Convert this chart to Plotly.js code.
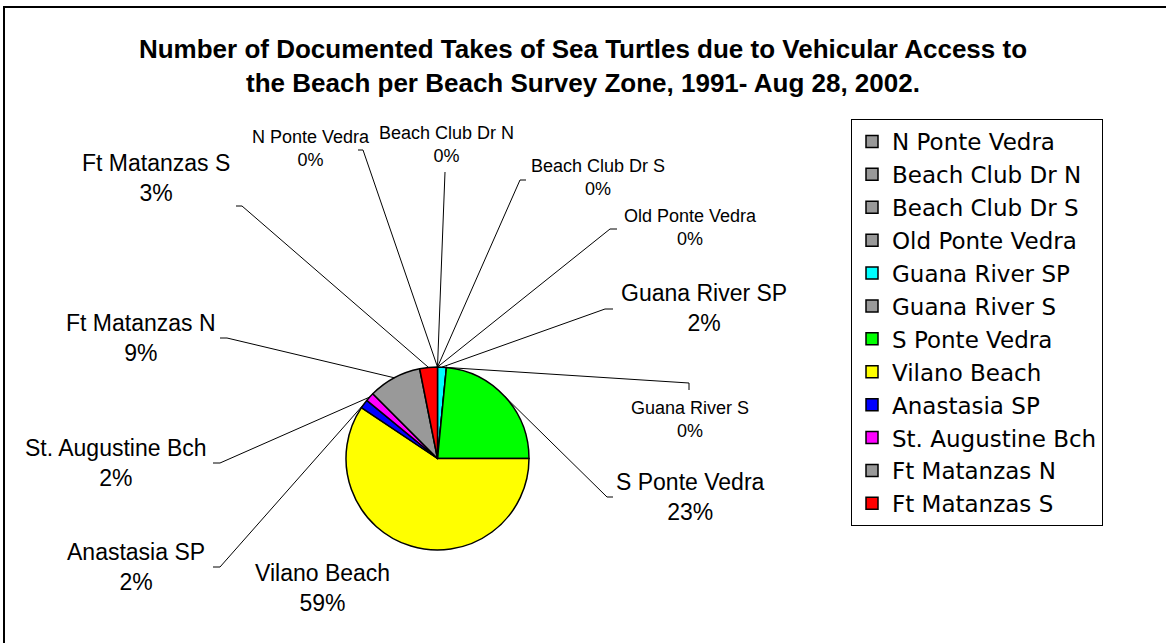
<!DOCTYPE html>
<html>
<head>
<meta charset="utf-8">
<script src="https://cdn.plot.ly/plotly-3.0.1.min.js"></script>
<style>html,body{margin:0;padding:0;background:#fff;}#chart{width:1166px;height:643px;}</style>
</head>
<body>
<div id="chart"></div>
<script>
// ---- data ----
const zones = ["N Ponte Vedra", "Beach Club Dr N", "Beach Club Dr S", "Old Ponte Vedra",
  "Guana River SP", "Guana River S", "S Ponte Vedra", "Vilano Beach", "Anastasia SP",
  "St. Augustine Bch", "Ft Matanzas N", "Ft Matanzas S"];
const takes = [0, 0, 0, 0, 1, 0, 15, 38, 1, 1, 6, 2];
const sliceColors = ["#999999", "#999999", "#999999", "#999999", "#00FFFF", "#999999",
  "#00FF00", "#FFFF00", "#0000FF", "#FF00FF", "#999999", "#FF0000"];
const chartTitle = "<b>Number of Documented Takes of Sea Turtles due to Vehicular Access to<br>the Beach per Beach Survey Zone, 1991- Aug 28, 2002.</b>";

// ---- layout helpers (pixel placement of labels) ----
const W = 1166, H = 643;
const CX = 437.5, CY = 458.5, R = 91.5;
const labelPos = [[311, 148], [446, 144], [598, 178], [690, 228], [704, 308], [690, 419],
  [690, 497], [322, 588], [136, 567], [116, 463], [141, 338], [156, 178]];
const labelBig = [false, false, false, false, true, false, true, true, true, true, true, true];
const leaderTick = [[358, 150], [445, 172], [526, 180], [617, 229], [613, 309], [689, 390],
  [613, 497], null, [213, 567], [213, 463], [220, 338], [236, 206]];
const leaderBend = [[363, 150], [445, 172], [520, 180], [610, 229], [605, 309], [689, 383],
  [607, 497], null, [220, 567], [220, 463], [227, 338], [242, 206]];

const px = x => x / W, py = y => 1 - y / H;
const total = takes.reduce((a, b) => a + b, 0);

let cum = 0;
const annotations = [], shapes = [];
zones.forEach((z, i) => {
  const mid = (cum + takes[i] / 2) / total * 2 * Math.PI;
  cum += takes[i];
  const ex = CX + R * Math.sin(mid), ey = CY - R * Math.cos(mid);
  const pct = Math.round(takes[i] / total * 100) + "%";
  annotations.push({
    xref: "paper", yref: "paper", x: px(labelPos[i][0]), y: py(labelPos[i][1]),
    xanchor: "center", yanchor: "middle", showarrow: false, align: "center",
    text: z + "<br>" + pct,
    font: {family: "Liberation Sans, Arial, sans-serif", size: labelBig[i] ? 23 : 18, color: "#000"}
  });
  if (leaderTick[i]) {
    const t = leaderTick[i], b = leaderBend[i];
    shapes.push({
      type: "path", xref: "paper", yref: "paper",
      path: `M ${px(t[0])} ${py(t[1])} L ${px(b[0])} ${py(b[1])} L ${px(ex)} ${py(ey)}`,
      line: {color: "#000", width: 1}
    });
  }
});

shapes.push({
  type: "rect", xref: "paper", yref: "paper",
  x0: px(4), y0: -0.05, x1: 1.05, y1: py(7),
  line: {color: "#000", width: 2}, fillcolor: "rgba(0,0,0,0)", layer: "above"
});

const trace = {
  type: "pie",
  labels: zones,
  values: takes,
  sort: false,
  direction: "clockwise",
  rotation: 0,
  textinfo: "none",
  hoverinfo: "label+percent",
  marker: {colors: sliceColors, line: {color: "#000", width: 1.5}},
  domain: {x: [px(CX - R), px(CX + R)], y: [py(CY + R), py(CY - R)]}
};

const layout = {
  width: W, height: H,
  margin: {l: 0, r: 0, t: 0, b: 0},
  paper_bgcolor: "#fff",
  title: {
    text: chartTitle, x: 0.5, xanchor: "center", xref: "paper",
    y: 1 - 58 / H, yref: "container", yanchor: "middle",
    font: {family: "Liberation Sans, Arial, sans-serif", size: 26, color: "#000"}
  },
  showlegend: true,
  legend: {
    x: px(851), y: py(119), xanchor: "left", yanchor: "top",
    bgcolor: "#fff", bordercolor: "#000", borderwidth: 1,
    font: {family: "DejaVu Sans, sans-serif", size: 23, color: "#000"},
    traceorder: "normal"
  },
  annotations: annotations,
  shapes: shapes
};

Plotly.newPlot("chart", [trace], layout, {displayModeBar: false, staticPlot: true});
</script>
</body>
</html>
